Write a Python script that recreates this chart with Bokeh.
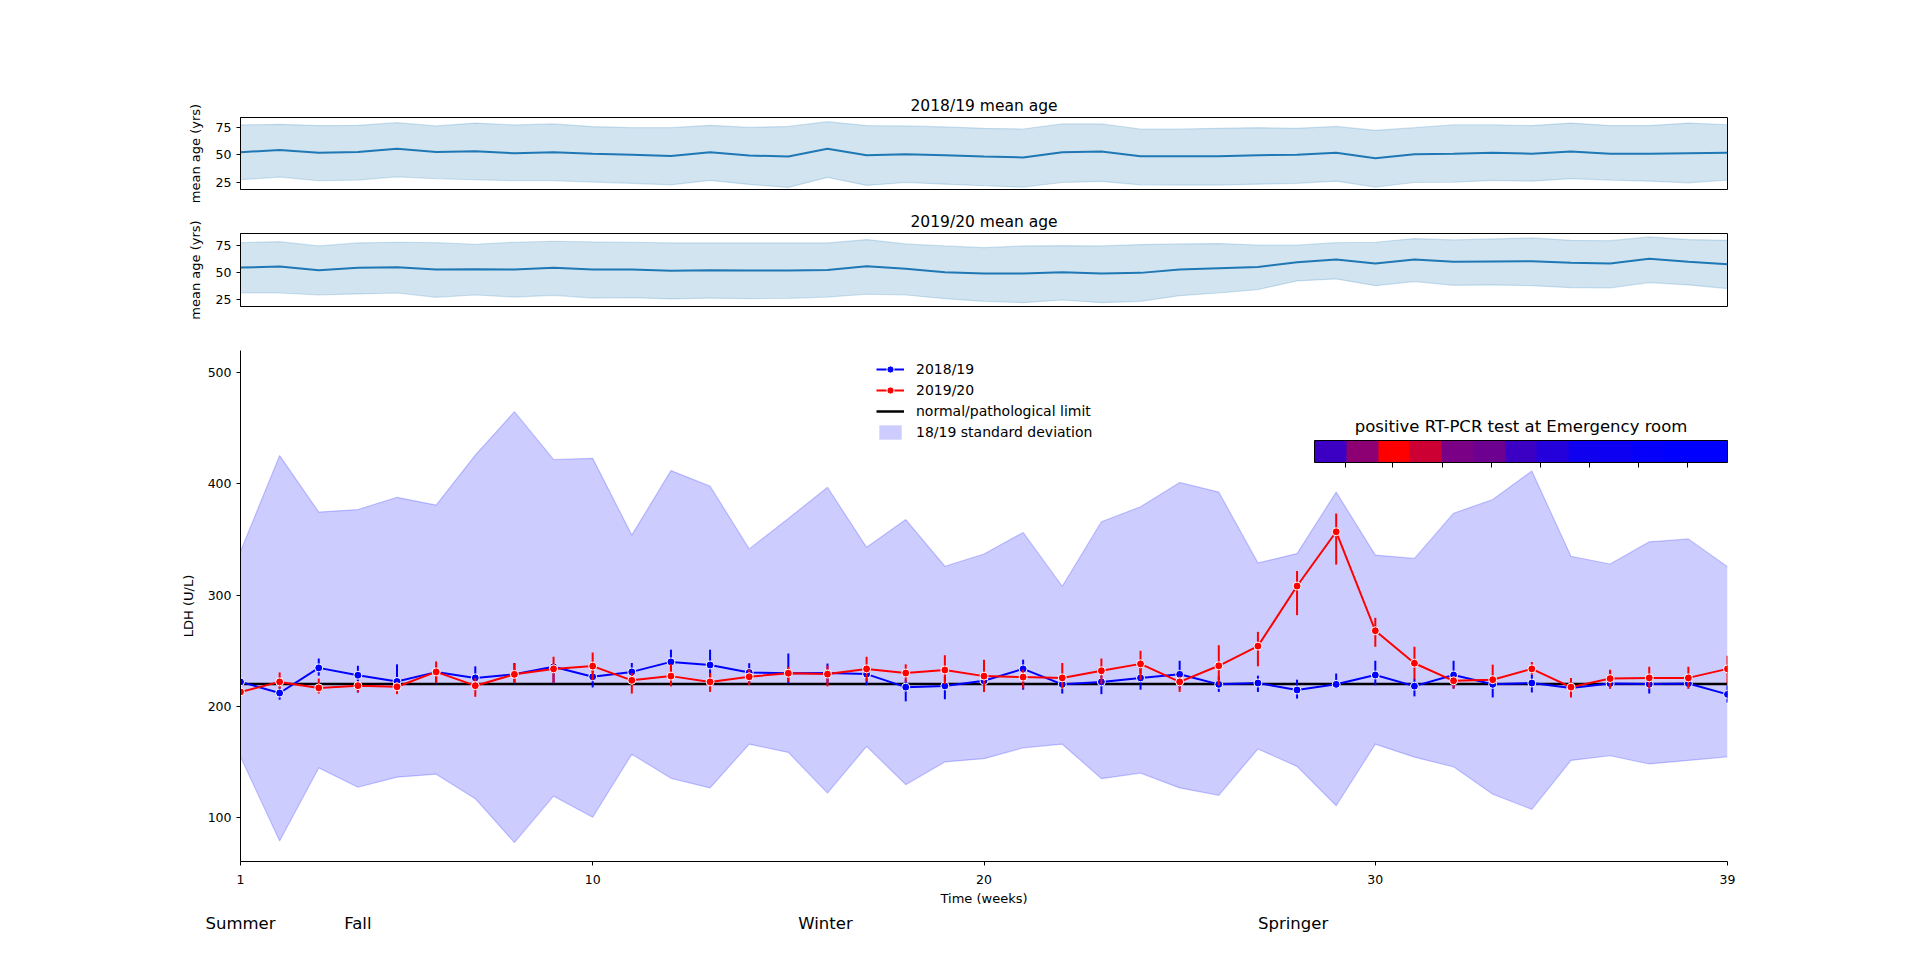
from bokeh.plotting import figure
from bokeh.layouts import column
from bokeh.core.properties import value
from bokeh.models import (Range1d, FixedTicker, Legend, LegendItem, ColorBar,
                          LinearColorMapper, Label)
from bokeh.embed import file_html
from bokeh.resources import INLINE

FONT = "DejaVu Sans"

weeks = list(range(1, 40))

# mean age per week (line) and +/- one sd (band)
age_1819 = [52.4, 54.5, 52, 52.7, 55.5, 52.7, 53.3, 51.5, 52.4, 51, 50, 49, 52.4, 49.4, 48.5, 55.5,
            49.7, 50.6, 49.7, 48.5, 47.6, 52.4, 53, 48.8, 48.8, 48.8, 49.7, 50, 52, 47, 50.6,
            51, 52, 51, 53, 51, 51, 51.5, 52]
age_1819_hi = [77.3, 77.9, 76.7, 77, 79.4, 76.4, 79, 77.3, 78.2, 75.8, 74.8, 74.8, 77, 75, 76, 80.3,
               76.7, 76.4, 75.5, 74.2, 73.6, 78.2, 78.2, 73.6, 73.6, 74.2, 74.8, 74.2, 76, 72.4, 74.8,
               77.5, 77.5, 76.7, 79, 76.7, 76.7, 79, 77.5]
age_1819_lo = [27.3, 29.7, 26.4, 27, 30, 28.2, 27.3, 26.4, 26.4, 25.2, 24, 22.7, 26.7, 23, 20.3, 29.4,
               22.1, 24.8, 23.3, 21.8, 20.6, 24.8, 25.8, 22.7, 22.4, 22.4, 23.3, 24, 26, 20.6, 24.8,
               25, 26.7, 26, 28.3, 27, 26, 24.5, 27]

age_1920 = [54.7, 55.7, 52.2, 54.4, 55, 52.8, 53.1, 52.8, 54.4, 52.8, 52.8, 51.6, 52.2, 51.9, 51.9,
            52.5, 56, 53.5, 50.3, 49, 49, 50.3, 49, 49.7, 52.8, 54, 55.3, 59.7, 62.3, 58.5, 62.3,
            60.1, 60.4, 60.7, 59.1, 58.5, 62.9, 60.1, 57.9]
age_1920_hi = [78.1, 79, 75, 77.8, 78.5, 78.1, 76.6, 78.5, 79.4, 78.8, 78.5, 77.8, 77.8, 77.8, 77.8,
               77.8, 81, 76.9, 75, 73.4, 75, 75.3, 75, 76.3, 76.9, 77.2, 75.9, 75.9, 78.1, 78.5,
               81.9, 80.7, 81.6, 82.5, 80.3, 80, 83.5, 81, 80.3]
age_1920_lo = [30.8, 30.8, 28.9, 29.9, 30.8, 26.7, 28.9, 27, 28.6, 26, 26.4, 25.2, 26, 25.5, 25.8,
               27, 29.6, 28.9, 25.5, 23, 21.7, 24.2, 21.7, 23, 28.3, 30.8, 34, 42.1, 44, 37.7,
               41.5, 38, 38.4, 37.7, 35.8, 35.5, 40.6, 38.4, 34.9]

# LDH mean and error bars
ldh_1819 = [222, 212, 234.6, 228, 222.4, 230.8, 225.6, 228.8, 235.6, 226.6, 231, 240, 237.2, 230.4,
            229.8, 230, 229, 217.3, 218.4, 223, 233.7, 219.8, 222, 225.6, 228.8, 219.8, 221, 214.7,
            219.8, 228.2, 218.2, 228.2, 219.8, 221, 216.6, 220.5, 220, 220.5, 210.8]
ldh_1819_lo = [219, 206, 227.6, 212.5, 220.5, 220.5, 216, 220.5, 220.5, 217, 220.5, 228.5, 222, 220.5,
               220.5, 220.5, 219, 204.5, 206.4, 213, 215, 211.5, 211, 215, 216, 213, 213, 207, 216,
               219, 209, 216, 208, 212.5, 212.5, 216, 211.5, 216, 203.5]
ldh_1819_hi = [225, 217, 243, 236.5, 237.8, 236, 236, 239, 236.5, 232, 239, 251, 251, 238.8, 247.5,
               238.5, 236.5, 224, 227, 230, 242, 227, 227, 235, 241, 227, 227.6, 224, 229.5, 241,
               225, 241, 227, 228.5, 220.5, 232, 228.5, 227, 219]

ldh_1920 = [213, 222, 216.6, 218.6, 217.6, 231, 218.6, 228.8, 233.7, 236.2, 223.4, 227.2, 222, 226.6,
            229.8, 229, 233.7, 230, 232.7, 227.2, 226.3, 225.6, 232, 238.2, 222, 236.5, 254.2, 308.2,
            357, 268, 238.8, 223, 224, 233.7, 217.3, 225, 225.6, 225.6, 233.7]
ldh_1920_lo = [211, 216, 211.5, 212.5, 211, 221, 208.6, 221, 221, 223.6, 211.5, 218, 213, 219, 222,
               218, 222.7, 222, 220, 213, 216, 216, 220, 224, 213, 219, 236, 282, 327.5, 253.6,
               224.3, 216, 220.5, 228.5, 208, 216, 216, 216, 220.5]
ldh_1920_hi = [216, 230.5, 225, 222.6, 222, 240.4, 225.4, 238.8, 244.6, 248.4, 230, 238, 230, 233.3,
               235.6, 236.5, 244.6, 237.8, 246, 242, 233, 239, 243, 250, 227, 255, 267, 321.7, 373.4,
               279.6, 253.6, 227, 237.5, 240, 225.6, 233, 235.6, 235.6, 245.5]

# 18/19 standard deviation band
sd_hi = [339.4, 425.5, 374.7, 377, 388, 381, 426, 465, 422, 423, 354, 412, 398, 341.6, 369, 397, 343,
         368, 326, 337, 356.4, 308, 366, 379.5, 401.4, 392.7, 329, 337.4, 392.7, 336, 333, 373.7,
         386, 411.6, 335, 328, 348, 350.6, 325.5]
sd_lo = [154.6, 79, 144.7, 127.3, 136.3, 139, 117, 77.5, 119.3, 100.3, 157, 135.3, 126.7, 166,
         158.6, 122, 164, 129.6, 150, 153, 162.7, 166, 135, 140, 126.7, 120, 161.7, 146, 110.6, 166,
         154.3, 145.6, 121, 107.4, 151.4, 155.6, 148.2, 151.4, 154.6]

ldh_limit = 220

# positive RT-PCR tests (relative), one cell each
positive_tests = [23, 55, 100, 80, 48, 43, 23, 14, 6, 5, 2, 0, 0]
cb_ticks = [0.97, 2.47, 4.02, 5.56, 7.11, 8.65, 10.2, 11.75]

season_labels = ["Summer", "Fall", "Winter", "Springer"]
season_weeks = [1, 4, 15.95, 27.9]

LEFT, RIGHT, FRAME_W = 240, 10, 1487
WIDTH = LEFT + FRAME_W + RIGHT
x_range = Range1d(1, 39)


def style_yaxis(p, ticks, label, standoff):
    p.yaxis.ticker = FixedTicker(ticks=ticks)
    p.yaxis.axis_label = label
    p.yaxis.axis_label_text_font = FONT
    p.yaxis.axis_label_text_font_size = "13px"
    p.yaxis.axis_label_text_font_style = "normal"
    p.yaxis.axis_label_text_color = "black"
    p.yaxis.axis_label_standoff = standoff
    p.yaxis.major_label_text_font = FONT
    p.yaxis.major_label_text_font_size = "12.5px"
    p.yaxis.major_label_text_color = "black"
    p.yaxis.major_label_standoff = 5
    p.yaxis.major_tick_out = 4
    p.yaxis.major_tick_in = 0
    p.yaxis.minor_tick_line_color = None
    p.yaxis.axis_line_color = "black"
    p.yaxis.major_tick_line_color = "black"


def age_panel(title, mean, lo, hi, y0, y1, height, top, bottom):
    p = figure(width=WIDTH, height=height, x_range=x_range, y_range=Range1d(y0, y1),
               x_axis_type=None, output_backend="svg", toolbar_location=None,
               min_border_left=LEFT, min_border_right=RIGHT, min_border_top=top,
               min_border_bottom=bottom)
    p.title.text = title
    p.title.align = "center"
    p.title.text_font = FONT
    p.title.text_font_size = "15.5px"
    p.title.text_font_style = "normal"
    p.title.text_color = "black"
    p.title.standoff = 6
    p.grid.visible = False
    p.outline_line_color = "black"
    p.outline_line_alpha = 1
    p.varea(x=weeks, y1=lo, y2=hi, fill_color="#1f77b4", fill_alpha=0.2)
    p.line(weeks, hi, line_color="#1f77b4", line_alpha=0.2, line_width=1.2)
    p.line(weeks, lo, line_color="#1f77b4", line_alpha=0.2, line_width=1.2)
    p.line(weeks, mean, line_color="#1f77b4", line_width=2)
    style_yaxis(p, [25, 50, 75], "mean age (yrs)", 10)
    return p


p1 = age_panel("2018/19 mean age", age_1819, age_1819_lo, age_1819_hi, 18.4, 84.1, 207, 117, 18)
p2 = age_panel("2019/20 mean age", age_1920, age_1920_lo, age_1920_hi, 18.1, 86.7, 116, 26, 17)

p = figure(width=WIDTH, height=588, x_range=x_range, y_range=Range1d(60.5, 520),
           output_backend="svg", toolbar_location=None,
           min_border_left=LEFT, min_border_right=RIGHT, min_border_top=27, min_border_bottom=50)
p.grid.visible = False
p.outline_line_color = None

band = p.varea(x=weeks, y1=sd_lo, y2=sd_hi, fill_color="blue", fill_alpha=0.2)
p.line(weeks, sd_hi, line_color="blue", line_alpha=0.2, line_width=1.2)
p.line(weeks, sd_lo, line_color="blue", line_alpha=0.2, line_width=1.2)

l_limit = p.line(weeks, [ldh_limit] * len(weeks), line_color="black", line_width=2.5)

p.segment(x0=weeks, y0=ldh_1819_lo, x1=weeks, y1=ldh_1819_hi, line_color="blue", line_width=2)
l_1819 = p.line(weeks, ldh_1819, line_color="blue", line_width=2)
s_1819 = p.scatter(weeks, ldh_1819, size=8, fill_color="blue", line_color="white", line_width=1)

p.segment(x0=weeks, y0=ldh_1920_lo, x1=weeks, y1=ldh_1920_hi, line_color="red", line_width=2)
l_1920 = p.line(weeks, ldh_1920, line_color="red", line_width=2)
s_1920 = p.scatter(weeks, ldh_1920, size=8, fill_color="red", line_color="white", line_width=1)

p.xaxis.ticker = FixedTicker(ticks=[1, 10, 20, 30, 39])
p.xaxis.axis_label = "Time (weeks)"
p.xaxis.axis_label_text_font = FONT
p.xaxis.axis_label_text_font_size = "13px"
p.xaxis.axis_label_text_font_style = "normal"
p.xaxis.axis_label_text_color = "black"
p.xaxis.axis_label_standoff = 4
p.xaxis.major_label_text_font = FONT
p.xaxis.major_label_text_font_size = "12.5px"
p.xaxis.major_label_text_color = "black"
p.xaxis.major_label_standoff = 9
p.xaxis.major_tick_out = 4
p.xaxis.major_tick_in = 0
p.xaxis.minor_tick_line_color = None
p.xaxis.axis_line_color = "black"
p.xaxis.major_tick_line_color = "black"
style_yaxis(p, [100, 200, 300, 400, 500], "LDH (U/L)", 9)

legend = Legend(items=[
    LegendItem(label="2018/19", renderers=[l_1819, s_1819]),
    LegendItem(label="2019/20", renderers=[l_1920, s_1920]),
    LegendItem(label="normal/pathological limit", renderers=[l_limit]),
    LegendItem(label="18/19 standard deviation", renderers=[band]),
], location=(636, 420))
legend.border_line_color = None
legend.background_fill_alpha = 0
legend.padding = 0
legend.margin = 0
legend.spacing = 3
legend.label_height = 18
legend.glyph_height = 18
legend.glyph_width = 28
legend.label_standoff = 12
legend.label_text_font = FONT
legend.label_text_font_size = "14px"
legend.label_text_color = "black"
p.add_layout(legend)

peak = max(positive_tests)
cb_palette = ["#%02x00%02x" % (round(255 * v / peak), 255 - round(255 * v / peak))
              for v in positive_tests]
mapper = LinearColorMapper(palette=cb_palette, low=0, high=len(positive_tests))
cbar = ColorBar(color_mapper=mapper, orientation="horizontal", width=413, height=22,
                location=(1074, 394), padding=0, margin=0,
                ticker=FixedTicker(ticks=cb_ticks), major_tick_out=5, major_tick_in=0,
                major_tick_line_color="black",
                major_label_overrides={t: "" for t in cb_ticks},
                label_standoff=0, bar_line_color="black", bar_line_width=1,
                border_line_color=None, background_fill_alpha=0)
p.add_layout(cbar)
p.add_layout(Label(x=1074 + 413 / 2, y=435, x_units="screen", y_units="screen",
                   text="positive RT-PCR test at Emergency room", text_align="center",
                   text_baseline="middle", text_font=FONT, text_font_size="16.5px",
                   text_color="black"))

# season names under the time axis; this strip spans the full width (frame not
# aligned with the plots above) so the names at the frame edge are not cut
px_week = FRAME_W / (x_range.end - x_range.start)
ps = figure(width=WIDTH, height=24,
            x_range=Range1d(x_range.start - LEFT / px_week, x_range.end + RIGHT / px_week),
            y_range=Range1d(-1, 1), x_axis_type=None, y_axis_type=None,
            output_backend="svg", toolbar_location=None, frame_align=False,
            min_border_left=0, min_border_right=0, min_border_top=0, min_border_bottom=0)
ps.grid.visible = False
ps.outline_line_color = None
ps.text(x=season_weeks, y=[0] * len(season_weeks), text=season_labels, text_align="center",
        text_baseline="middle", text_font=value(FONT), text_font_size="16.5px",
        text_color="black")

layout = column(p1, p2, p, ps)
open("out.html", "w").write(file_html(layout, INLINE))
